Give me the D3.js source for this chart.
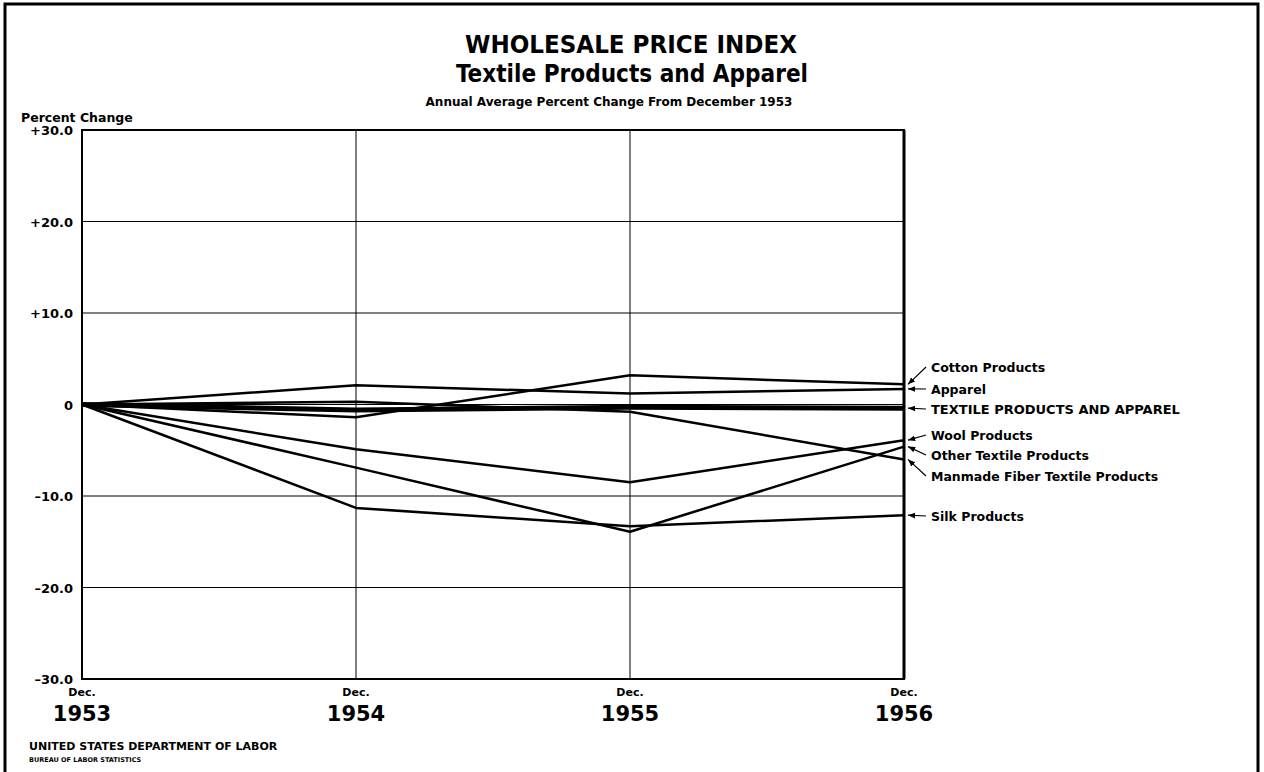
<!DOCTYPE html>
<html lang="en">
<head>
<meta charset="UTF-8">
<title>Wholesale Price Index</title>
<script src="https://d3js.org/d3.v7.min.js"></script>
<style>
  html, body { margin: 0; height: 100%; overflow: hidden; background: #fff; }
  text { font-family: "DejaVu Sans", sans-serif; font-weight: bold; fill: #000; }
  .cond { font-family: "DejaVu Sans Condensed", "DejaVu Sans", sans-serif; font-stretch: condensed; }
</style>
</head>
<body>
<svg id="svg"></svg>
<script>
  // data: percent change from Dec 1953
  const years = ["1953", "1954", "1955", "1956"];
  const yTicks = [30, 20, 10, 0, -10, -20, -30];
  const cotton = [0, -1.4, 3.2, 2.2];
  const apparel = [0, 2.1, 1.2, 1.7];
  const total = [0, -0.6, -0.3, -0.4];
  const wool = [0, -4.9, -8.5, -3.9];
  const otherTextile = [0, -6.9, -13.9, -4.6];
  const manmade = [0, 0.3, -0.8, -6.0];
  const silk = [0, -11.3, -13.3, -12.1];

  const series = [
    { name: "Cotton Products", values: cotton, labelY: 367 },
    { name: "Apparel", values: apparel, labelY: 389 },
    { name: "TEXTILE PRODUCTS AND APPAREL", values: total, labelY: 409, thick: true },
    { name: "Wool Products", values: wool, labelY: 435 },
    { name: "Other Textile Products", values: otherTextile, labelY: 455 },
    { name: "Manmade Fiber Textile Products", values: manmade, labelY: 476 },
    { name: "Silk Products", values: silk, labelY: 516 }
  ];

  const width = 1264, height = 772;
  const svg = d3.select("#svg").attr("width", width).attr("height", height);
  const margin = { top: 130, left: 82, right: 360, bottom: 93 };

  const x = d3.scalePoint().domain(years).range([margin.left, width - margin.right]);
  const y = d3.scaleLinear().domain([-30, 30]).range([height - margin.bottom, margin.top]);

  // outer frame
  svg.append("rect").attr("x", 5).attr("y", 4).attr("width", 1253).attr("height", 800)
    .attr("fill", "none").attr("stroke", "#000").attr("stroke-width", 3);

  // titles
  svg.append("text").attr("class", "cond").attr("x", 631).attr("y", 53).attr("text-anchor", "middle")
    .attr("font-size", 24).attr("textLength", 332).attr("lengthAdjust", "spacingAndGlyphs")
    .text("WHOLESALE PRICE INDEX");
  svg.append("text").attr("class", "cond").attr("x", 632).attr("y", 82).attr("text-anchor", "middle")
    .attr("font-size", 25).attr("textLength", 352).attr("lengthAdjust", "spacingAndGlyphs")
    .text("Textile Products and Apparel");
  svg.append("text").attr("x", 609).attr("y", 106).attr("text-anchor", "middle")
    .attr("font-size", 12).text("Annual Average Percent Change From December 1953");

  svg.append("text").attr("x", 21).attr("y", 122).attr("font-size", 12.5).text("Percent Change");

  // grid
  const g = svg.append("g");
  g.selectAll(".hgrid").data(yTicks.filter(d => Math.abs(d) !== 30)).join("line")
    .attr("x1", x.range()[0]).attr("x2", x.range()[1])
    .attr("y1", d => y(d)).attr("y2", d => y(d))
    .attr("stroke", "#000").attr("stroke-width", 1);
  g.selectAll(".vgrid").data(years.slice(1, -1)).join("line")
    .attr("x1", d => x(d)).attr("x2", d => x(d))
    .attr("y1", y(30)).attr("y2", y(-30))
    .attr("stroke", "#000").attr("stroke-width", 1);

  // plot frame
  g.append("rect").attr("x", x.range()[0]).attr("y", y(30))
    .attr("width", x.range()[1] - x.range()[0]).attr("height", y(-30) - y(30))
    .attr("fill", "none").attr("stroke", "#000").attr("stroke-width", 2);
  g.append("line").attr("x1", x.range()[1]).attr("x2", x.range()[1])
    .attr("y1", y(30)).attr("y2", y(-30)).attr("stroke", "#000").attr("stroke-width", 3);

  // y axis labels
  const fmt = d => d === 0 ? "0" : (d > 0 ? "+" : "\u2013") + Math.abs(d).toFixed(1);
  g.selectAll(".ylab").data(yTicks).join("text")
    .attr("x", 73).attr("y", d => y(d) + 5).attr("text-anchor", "end")
    .attr("font-size", 13).text(fmt);

  // x axis labels
  g.selectAll(".dec").data(years).join("text")
    .attr("x", d => x(d)).attr("y", 696).attr("text-anchor", "middle")
    .attr("font-size", 11).text("Dec.");
  g.selectAll(".yr").data(years).join("text")
    .attr("x", d => x(d)).attr("y", 721).attr("text-anchor", "middle")
    .attr("font-size", 21).text(d => d);

  // lines
  const line = d3.line().x((d, i) => x(years[i])).y(d => y(d));
  g.selectAll(".series").data(series).join("path")
    .attr("d", d => line(d.values))
    .attr("fill", "none").attr("stroke", "#000")
    .attr("stroke-width", d => d.thick ? 5 : 2.5)
    .attr("stroke-linejoin", "round");

  // labels with arrows
  svg.append("defs").append("marker").attr("id", "arr")
    .attr("viewBox", "0 0 10 10").attr("refX", 10).attr("refY", 5)
    .attr("markerWidth", 6).attr("markerHeight", 6).attr("orient", "auto")
    .append("path").attr("d", "M0,1 L10,5 L0,9 Z").attr("fill", "#000");

  const lx = x.range()[1];
  g.selectAll(".arrow").data(series).join("line")
    .attr("x1", lx + 22).attr("y1", d => d.labelY)
    .attr("x2", lx + 4).attr("y2", d => y(d.values[d.values.length - 1]))
    .attr("stroke", "#000").attr("stroke-width", 1.2)
    .attr("marker-end", "url(#arr)");
  g.selectAll(".slab").data(series).join("text")
    .attr("x", lx + 27).attr("y", d => d.labelY + 5)
    .attr("font-size", d => d.thick ? 13 : 12.5).text(d => d.name);

  // footer
  svg.append("text").attr("x", 29).attr("y", 750).attr("font-size", 11)
    .text("UNITED STATES DEPARTMENT OF LABOR");
  svg.append("text").attr("x", 29).attr("y", 762).attr("font-size", 6.5)
    .text("BUREAU OF LABOR STATISTICS");
</script>
</body>
</html>
